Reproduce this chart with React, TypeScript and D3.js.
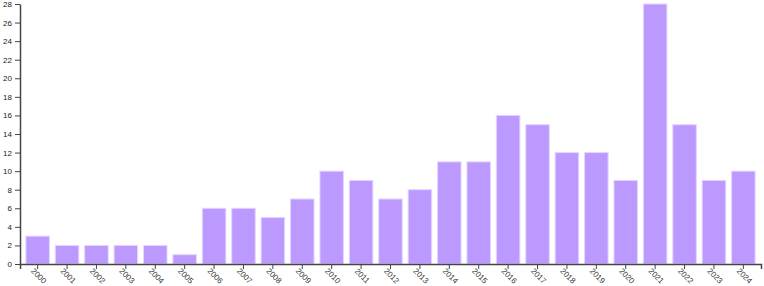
import React, { useEffect, useRef } from "react";
import * as d3 from "d3";

const years = ["2000","2001","2002","2003","2004","2005","2006","2007","2008","2009","2010","2011","2012","2013","2014","2015","2016","2017","2018","2019","2020","2021","2022","2023","2024"];
const counts = [3,2,2,2,2,1,6,6,5,7,10,9,7,8,11,11,16,15,12,12,9,28,15,9,10];
const yTicks = [0,2,4,6,8,10,12,14,16,18,20,22,24,26,28];

export default function App() {
  const ref = useRef<SVGSVGElement>(null);
  useEffect(() => {
    const svg = d3.select(ref.current);
    svg.selectAll("*").remove();
    const left = 20, right = 761, top = 4, bottom = 264;
    const x = d3.scaleBand<string>().domain(years).range([left, right]).padding(0.2);
    const y = d3.scaleLinear().domain([0, 28]).range([bottom, top]);

    svg.append("g").selectAll("rect").data(years).join("rect")
      .attr("x", d => x(d)!)
      .attr("width", x.bandwidth())
      .attr("y", (d, i) => y(counts[i]))
      .attr("height", (d, i) => y(0) - y(counts[i]))
      .attr("fill", "#bb99ff")
      .attr("stroke", "#e3d6ff")
      .attr("stroke-width", 1);

    const ya = svg.append("g").attr("transform", `translate(${left},0)`)
      .call(d3.axisLeft(y).tickValues(yTicks).tickSize(5).tickSizeOuter(0));
    ya.selectAll("text").attr("font-size", 8).attr("font-family", "Liberation Sans, Arial, sans-serif").attr("fill", "#222");
    ya.select(".domain").attr("stroke", "#444").attr("stroke-width", 1.5);
    ya.selectAll(".tick line").attr("stroke", "#444");

    const xa = svg.append("g").attr("transform", `translate(0,${bottom})`)
      .call(d3.axisBottom(x).tickSize(5).tickSizeOuter(5));
    xa.select(".domain").attr("stroke", "#444").attr("stroke-width", 1.5);
    xa.selectAll(".tick line").attr("stroke", "#444");
    xa.selectAll("text")
      .attr("font-size", 8)
      .attr("font-family", "Liberation Sans, Arial, sans-serif")
      .attr("fill", "#333")
      .attr("y", 0).attr("dy", "0.32em")
      .attr("text-anchor", "middle")
      .attr("transform", "translate(1,12) rotate(45)");
  }, []);
  return (
    <svg ref={ref} width={764} height={286} style={{ position: "absolute", left: 0, top: 0 }} />
  );
}
